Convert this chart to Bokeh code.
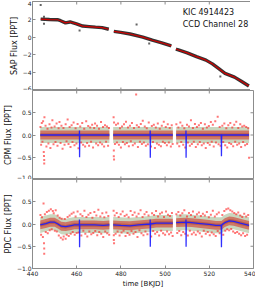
import math
from bokeh.plotting import figure
from bokeh.models import FixedTicker, LinearAxis, Label, Range1d
from bokeh.layouts import column
from bokeh.embed import file_html
from bokeh.resources import INLINE

NaN = float("nan")

# ---------------- data ----------------
x_ticks = [440, 460, 480, 500, 520, 540]
sap_ticks = [-6, -4, -2, 0, 2, 4]
sap_tick_labels = {-6: "\u22126", -4: "\u22124", -2: "\u22122", 0: "0", 2: "2", 4: "4"}
res_ticks = [-1.0, -0.5, 0.0, 0.5]
res_tick_labels = {-1.0: "\u22121.0", -0.5: "\u22120.5", 0.0: "0.0", 0.5: "0.5"}

# SAP flux: fitted trend (red) over the black data points
sap_t = [443.7, 447.7, 451.3, 452.7, 454.9, 457.0, 459.9, 462.7, 465.6, 468.5, 471.5, 474.5, NaN,
         476.8, 479.9, 484.2, 489.9, 494.2, 498.5, 502.8, NaN,
         504.9, 505.7, 510.0, 514.2, 518.5, 521.4, 524.3, 527.1, 531.4, 534.3, 537.9]
sap_f = [2.02, 1.97, 1.95, 1.84, 1.60, 1.70, 1.49, 1.24, 1.18, 1.12, 1.06, 0.88, NaN,
         0.64, 0.53, 0.35, 0.00, -0.35, -0.64, -0.99, NaN,
         -1.35, -1.42, -1.77, -2.20, -2.59, -3.01, -3.55, -4.08, -4.50, -4.93, -5.50]
sap_out_t = [443.7, 445.2, 445.2, 461.3, 487.1, 492.8, 525.0]
sap_out_f = [3.6, 2.3, 1.49, 0.75, 1.42, -0.71, -4.43]

# CPM residual flux
cpm_trend_t = [443.5, 474.8, NaN, 476.5, 503.5, NaN, 505.0, 538.0]
cpm_trend_f = [0.0, 0.0, NaN, 0.0, 0.0, NaN, 0.0, 0.0]
cpm_model_t = [443.5, 461.2, 461.25, 461.3, 461.4, 474.8, NaN,
               476.5, 493.2, 493.25, 493.3, 493.4, 503.5, NaN,
               505.0, 509.4, 509.45, 509.5, 509.6, 525.4, 525.5, 525.6, 538.0]
cpm_model_f = [0.0, 0.0, 0.10, -0.50, 0.0, 0.0, NaN,
               0.0, 0.0, 0.10, -0.51, 0.0, 0.0, NaN,
               0.0, 0.0, 0.10, -0.51, 0.0, 0.0, -0.48, 0.0, 0.0]
cpm_t = [443.6, 443.9, 444.2, 444.5, 444.8, 445.1, 445.2, 445.3, 445.3, 445.4, 445.9, 446.3, 446.8, 447.2,
         447.7, 448.1, 448.6, 449.0, 449.5, 450.0, 450.4, 450.9, 451.3, 451.8, 452.2, 452.7, 453.1, 453.6,
         454.0, 454.5, 455.0, 455.4, 455.9, 456.3, 456.8, 457.2, 457.7, 458.1, 458.6, 459.0, 459.5, 459.9,
         460.4, 460.8, 461.6, 462.0, 462.5, 462.9, 463.4, 463.8, 464.3, 464.7, 465.2, 465.6, 466.1, 466.5,
         467.0, 467.4, 467.9, 468.3, 468.8, 469.2, 469.7, 470.1, 470.6, 471.0, 471.5, 471.9, 472.4, 472.8,
         473.3, 473.7, 474.2, 474.6,
         476.7, 476.8, 476.8, 476.9, 476.9, 477.3, 477.8, 478.2, 478.7, 479.1, 479.6, 480.0, 480.5, 480.9,
         481.4, 481.8, 482.3, 482.7, 483.2, 483.6, 484.1, 484.5, 485.0, 485.4, 485.9, 486.3, 486.9, 487.2,
         487.7, 488.1, 488.6, 489.0, 489.5, 489.9, 490.4, 490.8, 491.3, 491.7, 492.2, 492.6, 493.6, 494.0,
         494.5, 494.9, 495.4, 495.8, 496.3, 496.7, 497.2, 497.6, 498.1, 498.5, 499.0, 499.4, 499.9, 500.3,
         500.8, 501.2, 501.7, 502.1, 502.6, 503.0, 503.4,
         505.1, 505.5, 506.0, 506.4, 506.9, 507.3, 507.8, 508.2, 508.7, 509.1, 509.9, 510.3, 510.8, 511.2,
         511.7, 512.1, 512.6, 513.0, 513.5, 513.9, 514.4, 514.8, 515.3, 515.7, 516.2, 516.6, 517.1, 517.5,
         518.0, 518.4, 518.9, 519.3, 519.8, 520.2, 520.7, 521.1, 521.6, 522.0, 522.7, 523.0, 523.8, 524.2,
         524.7, 525.1, 525.9, 526.3, 526.8, 527.2, 527.7, 528.1, 528.6, 529.0, 529.5, 529.9, 530.4, 530.8,
         531.3, 531.7, 532.2, 532.6, 533.1, 533.5, 534.0, 534.4, 534.9, 535.3, 535.8, 536.2, 536.7, 537.1,
         537.6, 538.0]
cpm_f = [0.18, -0.22, 0.27, -0.15, 0.31, -0.38, -0.47, -0.56, -0.64, 0.40, 0.21, -0.26, 0.14, -0.19,
         0.24, -0.29, 0.17, 0.33, -0.21, 0.19, -0.16, 0.26, -0.24, 0.15, 0.29, -0.18, 0.21, -0.31,
         0.16, -0.22, 0.24, -0.14, 0.35, -0.20, 0.18, -0.27, 0.22, -0.16, 0.28, -0.23, 0.15, -0.19,
         0.25, -0.30, 0.19, -0.17, 0.27, -0.22, 0.14, -0.26, 0.31, -0.18, 0.20, -0.24, 0.17, -0.15,
         0.23, -0.28, 0.16, 0.26, -0.19, 0.21, -0.23, 0.14, -0.17, 0.29, -0.21, 0.18, -0.26, 0.22,
         -0.15, 0.19, -0.24, 0.16,
         0.40, -0.35, -0.48, 0.28, -0.55, -0.20, 0.23, -0.17, 0.26, -0.22, 0.15, -0.28, 0.19, -0.16,
         0.24, -0.21, 0.30, -0.18, 0.17, -0.25, 0.21, -0.14, 0.27, -0.23, 0.16, -0.19, 0.91, 0.22,
         -0.27, 0.18, -0.15, 0.25, -0.20, 0.32, -0.17, 0.19, -0.24, 0.15, -0.21, 0.28, -0.26, 0.20,
         -0.16, 0.23, -0.29, 0.17, -0.19, 0.26, -0.22, 0.14, -0.25, 0.21, -0.15, 0.30, -0.18, 0.18,
         -0.23, 0.24, -0.17, 0.16, -0.26, 0.22, -0.20,
         0.24, -0.19, 0.17, -0.25, 0.28, -0.16, 0.21, -0.22, 0.15, -0.28, 0.23, -0.17, 0.19, -0.24,
         0.33, -0.20, 0.16, -0.15, 0.25, -0.27, 0.18, -0.21, 0.22, -0.16, 0.27, -0.23, 0.14, -0.19,
         0.24, -0.29, 0.17, -0.18, 0.20, -0.22, 0.29, -0.15, 0.23, -0.26, 0.31, -0.17, 0.41, -0.21,
         0.18, -0.24, 0.21, -0.16, 0.26, -0.23, 0.15, -0.28, 0.22, -0.18, 0.27, -0.20, 0.17, -0.25,
         0.23, -0.15, 0.30, -0.22, 0.16, -0.19, 0.24, -0.27, 0.19, -0.16, 0.21, -0.23, 0.18, -0.20,
         0.15, -0.51]

# PDC residual flux
pdc_trend_t = [443.5, 446.0, 448.0, 450.0, 451.5, 453.0, 455.0, 457.0, 459.0, 464.0, 468.0, 472.0, 474.8, NaN,
               476.5, 480.0, 484.0, 488.0, 493.0, 496.0, 500.0, 503.5, NaN,
               505.0, 509.0, 512.0, 516.0, 520.0, 523.0, 525.5, 527.0, 529.0, 531.0, 534.0, 538.0]
pdc_trend_f = [-0.02, 0.01, 0.04, 0.04, 0.00, -0.05, -0.06, -0.04, -0.02, -0.02, -0.02, -0.03, -0.02, NaN,
               -0.02, -0.03, -0.04, -0.02, 0.00, 0.02, 0.02, 0.02, NaN,
               0.03, 0.04, 0.03, 0.01, -0.01, -0.03, -0.03, 0.03, 0.07, 0.06, 0.02, -0.03]
pdc_model_t = [443.5, 446.0, 448.0, 450.0, 451.5, 453.0, 455.0, 457.0, 459.0, 461.2, 461.25, 461.3, 461.4,
               464.0, 468.0, 472.0, 474.8, NaN,
               476.5, 480.0, 484.0, 488.0, 493.2, 493.25, 493.3, 493.4, 496.0, 500.0, 503.5, NaN,
               505.0, 509.4, 509.45, 509.5, 509.6, 512.0, 516.0, 520.0, 523.0, 525.4, 525.5, 525.6,
               527.0, 529.0, 531.0, 534.0, 538.0]
pdc_model_f = [-0.02, 0.01, 0.04, 0.04, 0.00, -0.05, -0.06, -0.04, -0.02, -0.02, 0.10, -0.52, -0.02,
               -0.02, -0.02, -0.03, -0.02, NaN,
               -0.02, -0.03, -0.04, -0.02, 0.00, 0.10, -0.51, 0.00, 0.02, 0.02, 0.02, NaN,
               0.03, 0.04, 0.10, -0.51, 0.04, 0.03, 0.01, -0.01, -0.03, -0.03, -0.52, -0.02,
               0.03, 0.07, 0.06, 0.02, -0.03]
pdc_t = [443.6, 443.9, 444.3, 444.7, 445.0, 445.2, 445.3, 445.3, 445.6, 446.0, 446.5, 446.9, 447.4, 447.8,
         448.3, 448.7, 449.2, 449.6, 450.1, 450.5, 451.0, 451.4, 451.9, 452.3, 452.8, 453.2, 453.7, 454.1,
         454.6, 455.0, 455.5, 455.9, 456.4, 456.8, 457.3, 457.7, 458.2, 458.6, 459.1, 459.5, 460.0, 460.4,
         460.9, 461.7, 462.1, 462.6, 463.0, 463.5, 463.9, 464.4, 464.8, 465.3, 465.7, 466.2, 466.6, 467.1,
         467.5, 468.0, 468.4, 468.9, 469.3, 469.8, 470.2, 470.7, 471.1, 471.6, 472.0, 472.5, 472.9, 473.4,
         473.8, 474.3, 474.7,
         476.7, 476.8, 476.8, 476.9, 477.2, 477.6, 478.1, 478.5, 479.0, 479.4, 479.9, 480.3, 480.8, 481.2,
         481.7, 482.1, 482.6, 483.0, 483.5, 483.9, 484.4, 484.8, 485.3, 485.7, 486.2, 486.6, 487.1, 487.5,
         488.0, 488.4, 488.9, 489.3, 489.8, 490.2, 490.7, 491.1, 491.6, 492.0, 492.5, 493.7, 494.1, 494.6,
         495.0, 495.5, 495.9, 496.4, 496.8, 497.3, 497.7, 498.2, 498.6, 499.1, 499.5, 500.0, 500.4, 500.9,
         501.3, 501.8, 502.2, 502.7, 503.1, 503.4,
         505.1, 505.5, 506.0, 506.4, 506.9, 507.3, 507.8, 508.2, 508.7, 509.1, 509.9, 510.3, 510.8, 511.2,
         511.7, 512.1, 512.6, 513.0, 513.5, 513.9, 514.4, 514.8, 515.3, 515.7, 516.2, 516.6, 517.1, 517.5,
         518.0, 518.4, 518.9, 519.3, 519.8, 520.2, 520.7, 521.1, 521.6, 522.0, 522.5, 522.9, 523.4, 523.8,
         524.3, 524.7, 525.9, 526.3, 526.8, 527.2, 527.7, 528.1, 528.6, 529.0, 529.5, 529.9, 530.4, 530.8,
         531.3, 531.7, 532.2, 532.6, 533.1, 533.5, 534.0, 534.4, 534.9, 535.3, 535.8, 536.2, 536.7, 537.1,
         537.6]
pdc_f = [0.20, -0.24, 0.15, -0.29, 0.46, -0.43, -0.55, -0.67, 0.22, -0.18, 0.27, -0.21, 0.30, -0.14,
         0.33, -0.12, 0.29, 0.24, -0.15, 0.31, -0.17, 0.19, -0.26, 0.14, -0.31, 0.12, -0.35, -0.28,
         0.11, -0.33, -0.24, 0.16, -0.27, 0.19, -0.22, 0.23, -0.18, 0.26, -0.24, 0.17, -0.20, 0.28,
         -0.19, 0.22, -0.26, 0.18, -0.15, 0.30, -0.22, 0.16, -0.28, 0.21, -0.17, 0.25, -0.23, 0.14,
         -0.20, 0.27, -0.16, 0.19, -0.25, 0.32, -0.18, 0.17, -0.22, 0.24, -0.29, 0.15, -0.17, 0.26,
         -0.21, 0.18, -0.24,
         0.30, -0.25, -0.36, -0.43, 0.19, -0.22, 0.25, -0.17, 0.16, -0.26, 0.22, -0.19, 0.28, -0.15,
         0.18, -0.27, 0.21, -0.20, 0.15, -0.24, 0.29, -0.16, 0.20, -0.22, 0.26, -0.18, 0.17, -0.29,
         0.23, -0.14, 0.31, -0.21, 0.16, -0.25, 0.22, -0.17, 0.27, -0.23, 0.19, -0.28, 0.24, -0.16,
         0.20, -0.22, 0.29, -0.18, 0.17, -0.26, 0.23, -0.15, 0.26, -0.21, 0.16, -0.24, 0.28, -0.17,
         0.21, -0.23, 0.18, -0.19, 0.25, -0.27,
         0.22, -0.20, 0.27, -0.16, 0.19, -0.25, 0.24, -0.18, 0.31, -0.22, 0.17, -0.26, 0.25, -0.15,
         0.20, -0.23, 0.28, -0.19, 0.16, -0.24, 0.22, -0.17, 0.26, -0.21, 0.18, -0.28, 0.23, -0.15,
         0.19, -0.22, 0.27, -0.18, 0.15, -0.25, 0.21, -0.19, 0.30, -0.23, 0.17, -0.27, 0.22, -0.16,
         0.26, -0.21, 0.20, -0.24, 0.29, -0.15, 0.33, -0.12, 0.35, -0.14, 0.31, -0.11, 0.28, -0.17,
         0.25, -0.20, 0.22, -0.18, 0.26, -0.22, 0.19, -0.25, 0.16, -0.21, 0.23, -0.27, 0.17, -0.24,
         0.20]

# ---------------- styling helpers ----------------
FONT = "DejaVu Sans"
FRAME_W = 221
FRAME_H = 89
GREY = "#8c8c8c"
TICK_PX = 3
X0, X1 = 440, 540


def split_segments(ts, fs):
    segs, ct, cf = [], [], []
    for t, f in zip(ts, fs):
        if isinstance(t, float) and math.isnan(t):
            segs.append((ct, cf))
            ct, cf = [], []
        else:
            ct.append(t)
            cf.append(f)
    segs.append((ct, cf))
    return segs


def style_axis(ax, font_px):
    ax.major_label_text_font = FONT
    ax.major_label_text_font_size = "6px"
    ax.major_label_text_color = "#222222"
    ax.axis_label_text_font = FONT
    ax.axis_label_text_font_size = font_px
    ax.axis_label_text_font_style = "normal"
    ax.axis_label_text_color = "#111111"
    ax.major_tick_in = TICK_PX
    ax.major_tick_out = 0
    ax.minor_tick_in = 0
    ax.minor_tick_out = 0
    ax.axis_line_color = GREY
    ax.major_tick_line_color = GREY


def make_fig(y0, y1, yticks, ylabels, ylabel, bottom_labels=False, top_border=0):
    p = figure(frame_width=FRAME_W, frame_height=FRAME_H, output_backend="svg", toolbar_location=None,
               x_range=Range1d(X0, X1), y_range=Range1d(y0, y1),
               x_axis_location=None, y_axis_location=None,
               min_border_left=27, min_border_right=2, min_border_top=top_border,
               min_border_bottom=0)
    p.grid.visible = False
    p.outline_line_color = GREY
    p.outline_line_width = 1
    p.background_fill_color = "white"
    p.border_fill_color = "white"

    left = LinearAxis(ticker=FixedTicker(ticks=yticks), major_label_overrides=ylabels,
                      axis_label=ylabel)
    style_axis(left, "8px")
    left.major_label_standoff = 1
    left.axis_label_standoff = 1
    p.add_layout(left, "left")

    # inward tick marks on the top, right (and unlabeled bottom) edges
    dy = TICK_PX * (y1 - y0) / FRAME_H
    dx = TICK_PX * (X1 - X0) / FRAME_W
    p.segment(x0=x_ticks, y0=[y1] * len(x_ticks), x1=x_ticks, y1=[y1 - dy] * len(x_ticks),
              line_color=GREY, line_width=1)
    p.segment(x0=[X1] * len(yticks), y0=yticks, x1=[X1 - dx] * len(yticks), y1=yticks,
              line_color=GREY, line_width=1)

    if bottom_labels:
        bot = LinearAxis(ticker=FixedTicker(ticks=x_ticks), axis_label="time [BKJD]")
        style_axis(bot, "7px")
        bot.major_label_standoff = 2
        bot.axis_label_standoff = 1
        p.add_layout(bot, "below")
    else:
        p.segment(x0=x_ticks, y0=[y0] * len(x_ticks), x1=x_ticks, y1=[y0 + dy] * len(x_ticks),
                  line_color=GREY, line_width=1)
    return p


def residual_panel(p, trend_t, trend_f, model_t, model_f, dot_t, dot_f):
    segs = split_segments(trend_t, trend_f)
    for st, sf in segs:
        p.varea(x=st, y1=[v - 0.18 for v in sf], y2=[v + 0.18 for v in sf],
                fill_color="#c9d6be", fill_alpha=1.0)
    for st, sf in segs:
        p.varea(x=st, y1=[v - 0.10 for v in sf], y2=[v + 0.10 for v in sf],
                fill_color="#d42a1e", fill_alpha=0.55)
    for st, sf in segs:
        p.varea(x=st, y1=[v - 0.04 for v in sf], y2=[v + 0.04 for v in sf],
                fill_color="#9a2a18", fill_alpha=0.35)
    p.scatter(dot_t, dot_f, marker="square", size=2, fill_color="#ff1a1a", line_color=None,
              fill_alpha=0.6)
    p.line(model_t, model_f, line_color="#1a1aff", line_width=1.3, line_alpha=0.9)


# ---------------- panel 1: SAP ----------------
p1 = make_fig(-6, 4, sap_ticks, sap_tick_labels, "SAP Flux [PPT]", top_border=1)
p1.line(sap_t, sap_f, line_color="#111111", line_width=3.4, line_alpha=0.85)
p1.scatter(sap_out_t, sap_out_f, marker="square", size=2, fill_color="#222222", line_color=None,
           fill_alpha=0.7)
p1.line(sap_t, sap_f, line_color="#d00000", line_width=1.2)
p1.add_layout(Label(x=508, y=2.75, text="KIC 4914423", text_font=FONT, text_font_size="8px",
                    text_color="#111111", text_baseline="alphabetic"))
p1.add_layout(Label(x=508, y=1.45, text="CCD Channel 28", text_font=FONT, text_font_size="8px",
                    text_color="#111111", text_baseline="alphabetic"))

# ---------------- panel 2: CPM ----------------
p2 = make_fig(-1, 1, res_ticks, res_tick_labels, "CPM Flux [PPT]")
residual_panel(p2, cpm_trend_t, cpm_trend_f, cpm_model_t, cpm_model_f, cpm_t, cpm_f)

# ---------------- panel 3: PDC ----------------
p3 = make_fig(-1, 1, res_ticks, res_tick_labels, "PDC Flux [PPT]", bottom_labels=True)
residual_panel(p3, pdc_trend_t, pdc_trend_f, pdc_model_t, pdc_model_f, pdc_t, pdc_f)

layout = column(p1, p2, p3, spacing=0)
open("out.html", "w").write(file_html(layout, INLINE))
